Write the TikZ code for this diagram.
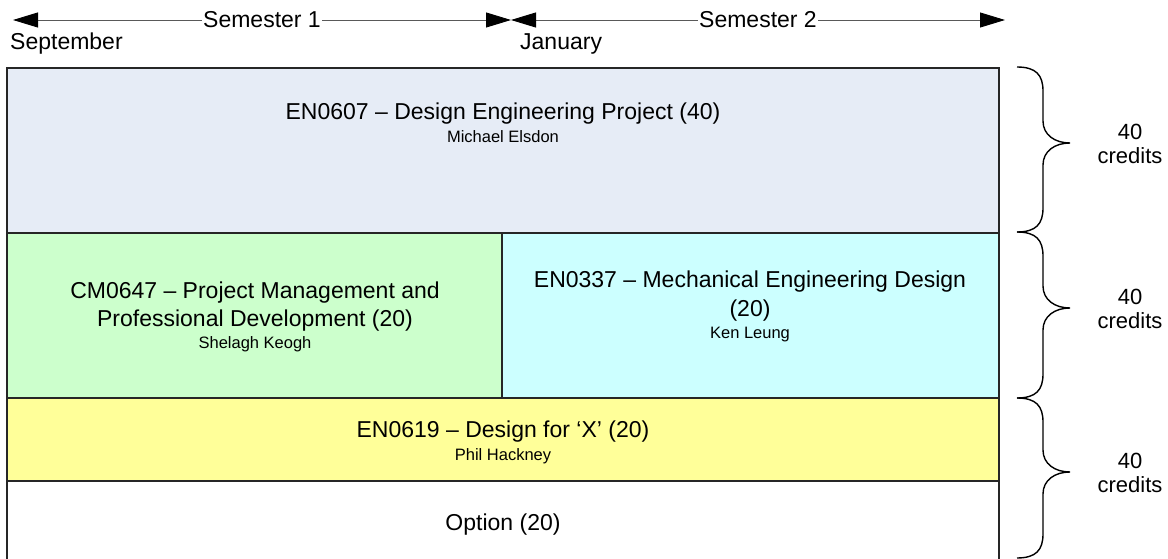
\documentclass[tikz,border=0pt]{standalone}
\usepackage{fontspec}
\setmainfont{Liberation Sans}
\usetikzlibrary{arrows.meta}
\definecolor{topblue}{RGB}{230,236,246}
\definecolor{pgreen}{RGB}{204,255,204}
\definecolor{pcyan}{RGB}{204,255,255}
\definecolor{pyellow}{RGB}{255,255,153}
\begin{document}
\begin{tikzpicture}[x=1pt,y=-1pt,
  box/.style={draw=black!85,line width=1.2pt},
  big/.style={font=\fontsize{23}{28}\selectfont,anchor=base,inner sep=0pt},
  small/.style={font=\fontsize{16.5}{19}\selectfont,anchor=base,inner sep=0pt},
  span/.style={draw=black!65,line width=0.9pt,
    {Triangle[length=25pt,width=15pt,color=black]}-{Triangle[length=25pt,width=15pt,color=black]}},
  semlabel/.style={font=\fontsize{23}{28}\selectfont,fill=white,inner xsep=1pt,inner ysep=0pt,anchor=center},
  bracepath/.style={draw=black,line width=1.4pt},
  credit/.style={font=\fontsize{22}{24}\selectfont,align=center,inner sep=0pt,anchor=center}
]
\useasboundingbox (0,0) rectangle (1168,559);

% timeline
\coordinate (sep) at (13,20);
\coordinate (jan) at (511,20);
\coordinate (end) at (1005,20);
\draw[span] (sep) -- node[semlabel] (s1) {Semester 1} (jan);
\draw[span] (jan) -- node[semlabel] (s2) {Semester 2} (end);
\node[big,anchor=base west] (lsep) at (10,50) {September};
\node[big,anchor=base west] (ljan) at (520,50) {January};

% boxes
\path[box,fill=topblue] (7,68) rectangle (999,233);
\path[box,fill=pgreen] (7,233) rectangle (502,398);
\path[box,fill=pcyan] (502,233) rectangle (999,398);
\path[box,fill=pyellow] (7,398) rectangle (999,481);
\path[box,fill=white] (7,481) rectangle (999,560);

% texts
\node[big] (t1) at (503,120) {EN0607 – Design Engineering Project (40)};
\node[small] (n1) at (503,143) {Michael Elsdon};

\node[big] (t2a) at (255,298) {CM0647 – Project Management and};
\node[big] (t2b) at (255,326) {Professional Development (20)};
\node[small] (n2) at (255,348) {Shelagh Keogh};

\node[big] (t3a) at (750,287) {EN0337 – Mechanical Engineering Design};
\node[big] (t3b) at (750,316) {(20)};
\node[small] (n3) at (750,338) {Ken Leung};

\node[big] (t4) at (503,437) {EN0619 – Design for ‘X’ (20)};
\node[small] (n4) at (503,460) {Phil Hackney};

\node[big] (t5) at (503,530) {Option (20)};

% braces and credit labels
\foreach \ya/\yb/\yt/\nm in {67/232/143/a, 232/398/308/b, 398/558/472/c}{
  \draw[bracepath] (1017,\ya) .. controls (1036,\ya) and (1043,{\ya+8}) .. (1043,{\ya+24})
     -- (1043,{\yt-22}) .. controls (1043,{\yt-8}) and (1055,\yt) .. (1070,\yt)
     .. controls (1055,\yt) and (1043,{\yt+8}) .. (1043,{\yt+22})
     -- (1043,{\yb-24}) .. controls (1043,{\yb-8}) and (1036,\yb) .. (1017,\yb);
  \node[credit] (cr\nm) at (1130,{\yt+1}) {40\\credits};
}
\end{tikzpicture}
\end{document}
